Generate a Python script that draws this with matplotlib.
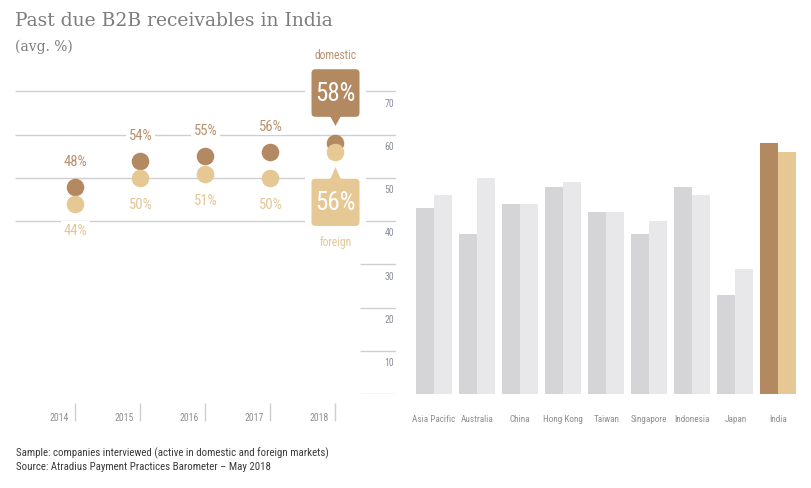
import matplotlib
matplotlib.use("Agg")
import matplotlib.pyplot as plt
from matplotlib import font_manager
from matplotlib.patches import FancyBboxPatch, Polygon

# --------------------------------------------------------------------------- #
# Data
# --------------------------------------------------------------------------- #
years = ["2014", "2015", "2016", "2017", "2018"]
india_domestic = [48, 54, 55, 56, 58]
india_foreign = [44, 50, 51, 50, 56]

countries = ["Asia Pacific", "Australia", "China", "Hong Kong", "Taiwan",
             "Singapore", "Indonesia", "Japan", "India"]
country_domestic = [43, 37, 44, 48, 42, 37, 48, 23, 58]
country_foreign = [46, 50, 44, 49, 42, 40, 46, 29, 56]

scale_ticks = [0, 10, 20, 30, 40, 50, 60, 70]

# --------------------------------------------------------------------------- #
# Style
# --------------------------------------------------------------------------- #
C_DOM = "#b38962"
C_FOR = "#e5c894"
C_DOM_TXT = "#b8906c"
C_FOR_TXT = "#e2c696"
C_GREY_DOM = "#d5d5d7"
C_GREY_FOR = "#e8e8ea"
C_GRID = "#cfcfcf"
C_LABEL = "#8e8e8e"
C_TITLE = "#7d7d7d"


def pick_narrow():
    """Find a regular condensed sans font file; None if nothing fits."""
    fl = font_manager.fontManager.ttflist
    prefs = [
        lambda f: f.name == "Liberation Sans Narrow",
        lambda f: f.name == "Roboto Condensed",
        lambda f: f.name == "DejaVu Sans" and "condensed" in str(f.stretch),
        lambda f: "Condensed" in f.name and "Sans" in f.name,
        lambda f: "Narrow" in f.name,
    ]
    for p in prefs:
        hits = [f for f in fl if p(f) and f.style == "normal"
                and f.weight in (400, "normal", "regular")]
        if hits:
            return hits[0].fname
    return None


narrow_file = pick_narrow()
if narrow_file:
    def NF(size):
        return font_manager.FontProperties(fname=narrow_file, size=size)
else:
    def NF(size):
        return font_manager.FontProperties(family="Roboto", size=size * 0.85)

W, H = 812, 489
fig = plt.figure(figsize=(W / 100, H / 100), dpi=100)

# shared vertical scale: value 0 at y=395.3 px, 4.3286 px per unit
PX_UNIT = 4.3286
Y0_PX = 395.3
YMAX = 80
ax_bottom = (H - Y0_PX) / H
ax_height = YMAX * PX_UNIT / H

# left panel: years at x = 75.5 + 65 i  (pixels), axes from 15 to 396 px
L0, L1 = 15, 396
ax = fig.add_axes([L0 / W, ax_bottom, (L1 - L0) / W, ax_height])
ax.set_xlim((L0 - 75.5) / 65, (L1 - 75.5) / 65)
ax.set_ylim(0, YMAX)
ax.axis("off")
xl0, xl1 = ax.get_xlim()

# right panel: groups at x = 434 + 43.06 i, axes from 400 to 812 px
R0, R1 = 400, 812
axr = fig.add_axes([R0 / W, ax_bottom, (R1 - R0) / W, ax_height])
axr.set_xlim((R0 - 434) / 43.06, (R1 - 434) / 43.06)
axr.set_ylim(0, YMAX)
axr.axis("off")

# gridlines
ax.hlines([t for t in scale_ticks if t >= 40], xl0, xl1, color=C_GRID, lw=1, zorder=0)
ax.hlines([t for t in scale_ticks if t < 40], (360 - 75.5) / 65, xl1,
          color=C_GRID, lw=1, zorder=0)
for t in scale_ticks[1:]:
    ax.text(xl1 - 0.03, t - 2.6, f"{t}", ha="right", va="center",
            fontproperties=NF(7), color="#8a8f9c")

# dots
xs = list(range(len(years)))
ax.scatter(xs, india_foreign, s=160, color=C_FOR, zorder=3, lw=0)
ax.scatter(xs, india_domestic, s=160, color=C_DOM, zorder=2, lw=0)

white_bg = dict(boxstyle="square,pad=0.15", fc="white", ec="none")
for i in xs[:-1]:
    ax.text(i, india_domestic[i] + 6.0, f"{india_domestic[i]}%", ha="center",
            va="center", fontproperties=NF(10.5), color=C_DOM_TXT,
            bbox=white_bg, zorder=4)
    ax.text(i, india_foreign[i] - 6.0, f"{india_foreign[i]}%", ha="center",
            va="center", fontproperties=NF(10.5), color=C_FOR_TXT,
            bbox=white_bg, zorder=4)

# callout boxes for the latest year
i = xs[-1]
bw = 48 / 65
asp = 65 / PX_UNIT


def callout(y_bot, y_top, tip_y, base_y, color, label):
    box = FancyBboxPatch((i - bw / 2, y_bot), bw, y_top - y_bot,
                         boxstyle="round,pad=0,rounding_size=0.06",
                         mutation_aspect=asp, fc=color, ec="none", zorder=5,
                         clip_on=False)
    ax.add_patch(box)
    # white gap around the box interrupting gridlines
    gap = FancyBboxPatch((i - bw / 2 - 0.1, y_bot - 0.5), bw + 0.2,
                         y_top - y_bot + 1.0, boxstyle="square,pad=0",
                         fc="white", ec="none", zorder=1, clip_on=False)
    ax.add_patch(gap)
    tri = Polygon([[i - 0.085, base_y], [i + 0.085, base_y], [i, tip_y]],
                  closed=True, fc=color, ec="none", zorder=5, clip_on=False)
    ax.add_patch(tri)
    ax.text(i, (y_bot + y_top) / 2, label, ha="center", va="center",
            fontproperties=NF(18), color="white", zorder=6)


d, f = india_domestic[i], india_foreign[i]
callout(d + 6.1, d + 17.1, d + 4.0, d + 6.3, C_DOM, f"{d}%")
callout(f - 17.1, f - 6.2, f - 3.5, f - 6.4, C_FOR, f"{f}%")
ax.text(i, d + 20.6, "domestic", ha="center", va="center",
        fontproperties=NF(8.3), color=C_DOM_TXT, clip_on=False)
ax.text(i, f - 20.6, "foreign", ha="center", va="center",
        fontproperties=NF(8.3), color=C_FOR_TXT, clip_on=False)

# year axis
ax.vlines(xs, -2.0, -6.2, color=C_GRID, lw=1, clip_on=False)
for i, yr in zip(xs, years):
    ax.text(i - 0.255, -5.25, yr, ha="center", va="center",
            fontproperties=NF(7), color=C_LABEL, clip_on=False)

# bars
bx = list(range(len(countries)))
w = 18 / 43.06
dom_cols = [C_GREY_DOM] * (len(countries) - 1) + [C_DOM]
for_cols = [C_GREY_FOR] * (len(countries) - 1) + [C_FOR]
axr.bar([x - w / 2 for x in bx], country_domestic, width=w, color=dom_cols, lw=0)
axr.bar([x + w / 2 for x in bx], country_foreign, width=w, color=for_cols, lw=0)
for x, c in zip(bx, countries):
    axr.text(x, -5.5, c, ha="center", va="center", fontproperties=NF(6.6),
             color=C_LABEL, clip_on=False)

# titles and footer
fig.text(15 / W, 1 - 21 / H, "Past due B2B receivables in India",
         family="DejaVu Serif", fontsize=13.5, color=C_TITLE, va="center")
fig.text(15 / W, 1 - 47 / H, "(avg. %)", family="DejaVu Serif", fontsize=10,
         color=C_TITLE, va="center")
fig.text(16 / W, 1 - 453 / H,
         "Sample: companies interviewed (active in domestic and foreign markets)",
         fontproperties=NF(7.8), color="#3a3a3a", va="center")
fig.text(16 / W, 1 - 467 / H,
         "Source: Atradius Payment Practices Barometer \u2013 May 2018",
         fontproperties=NF(7.8), color="#3a3a3a", va="center")

fig.savefig("out.png", dpi=100)
